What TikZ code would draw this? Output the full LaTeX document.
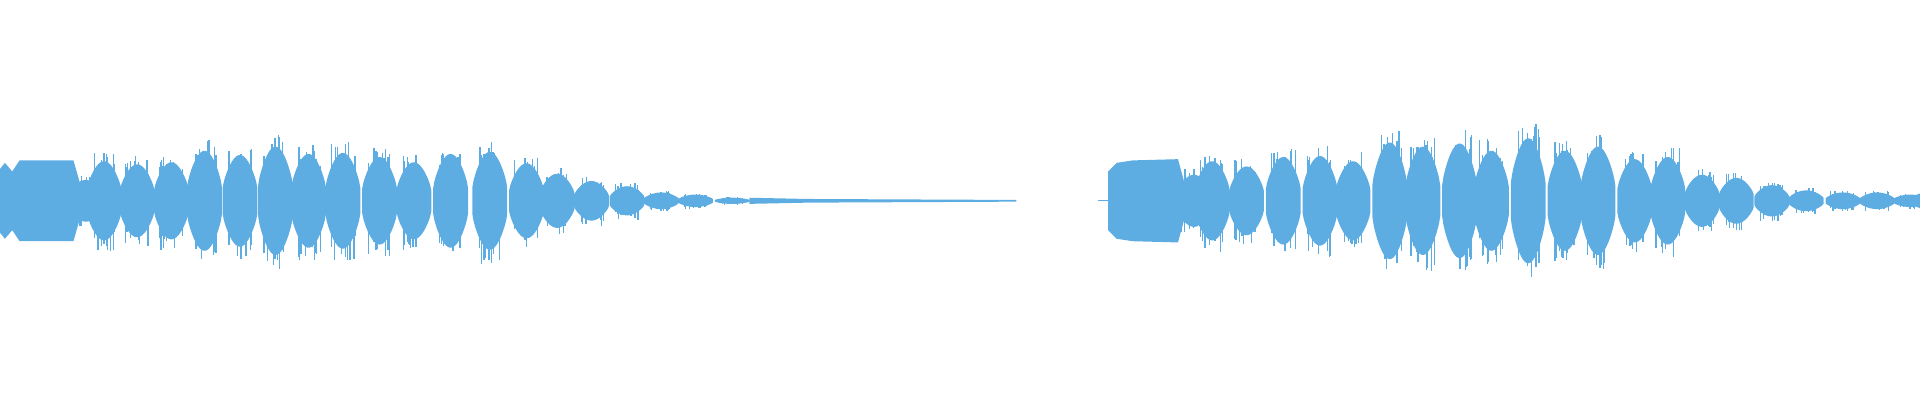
\documentclass[tikz,border=0pt]{standalone}
\definecolor{wave}{RGB}{93,172,226}
\tikzset{wav/.style={fill=wave,draw=none},spk/.style={draw=wave,line width=0.35pt}}
\begin{document}
\begin{tikzpicture}[x=0.012245cm,y=0.012245cm]
\useasboundingbox (0,-163) rectangle (1568,164);
\pgfmathsetseed{7}
% segment 1 block
\fill[wav] (0,-26) -- (4,-31) -- (10,-24) -- (16,-33) -- (60,-33) -- (66,-12) -- (66,12) -- (60,33) -- (16,33) -- (10,24) -- (4,31) -- (0,26) -- cycle;
% segment 2 block
\fill[wav] (905,-24) -- (912,-31) -- (925,-33) -- (962,-34) -- (968,-12) -- (968,12) -- (962,34) -- (925,33) -- (912,31) -- (905,24) -- cycle;
\draw[spk] (897,0) -- (905,0);
% bumps
\foreach \c/\a in {70/20,85/38,112/35,140/37,167/48,196/44,225/52,252/45,280/46,310/42,338/37,368/45,400/47,430/36,455/26,483/19,512/14,540/8,568/6,598/3,
  975/25,990/38,1018/33,1048/42,1078/43,1105/38,1135/56,1162/52,1192/55,1218/48,1248/60,1278/48,1305/52,1335/40,1362/42,1390/25,1418/22,1447/15,1475/10,1505/8,1533/8,1560/6}{
  \fill[wav] plot[domain=-14.2:14.2,samples=31] ({\c+\x},{0.85*\a*(0.28+0.72*pow(abs(cos(\x*90/14.2)),0.75))})
    -- plot[domain=14.2:-14.2,samples=31] ({\c+\x},{-0.85*\a*(0.28+0.72*pow(abs(cos(\x*90/14.2)),0.75))}) -- cycle;
  \foreach \k in {1,...,12}{
    \pgfmathsetmacro{\px}{\c+10*rand}
    \pgfmathsetmacro{\up}{\a*(0.6+0.45*rnd)}
    \pgfmathsetmacro{\dn}{\a*(0.6+0.5*rnd)}
    \draw[spk] (\px,-\dn) -- (\px,\up);
  }
}
% tail
\fill[wav] (612,2.5) -- (660,1.5) -- (830,0.7) -- (830,-0.7) -- (660,-1.5) -- (612,-2.5) -- cycle;
\fill[wav] (1560,3) -- (1568,6) -- (1568,-6) -- (1560,-3) -- cycle;
\end{tikzpicture}
\end{document}
